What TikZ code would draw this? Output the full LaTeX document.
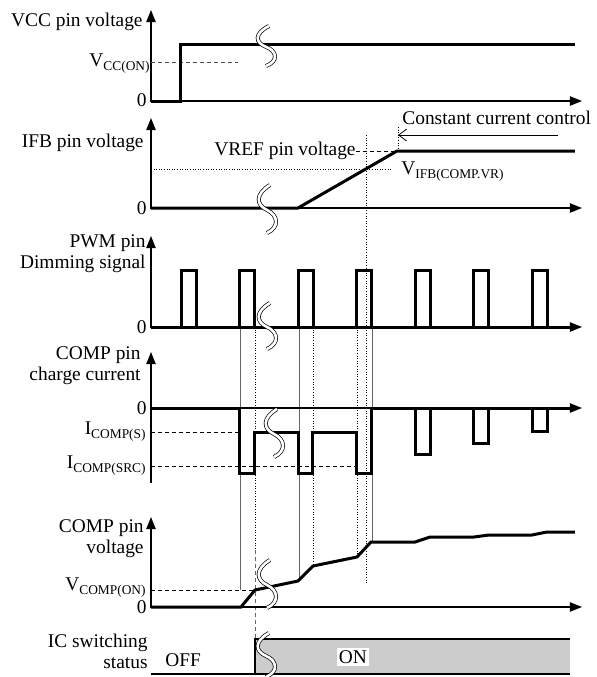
\documentclass[tikz,border=0pt]{standalone}
\usepackage{fontspec}
\setmainfont{Liberation Serif}
\usetikzlibrary{arrows.meta}
\usetikzlibrary{calc}

\newcommand{\lowsub}[1]{\raisebox{-0.45ex}{\fontsize{6.7}{7}\selectfont #1}}

\tikzset{
  lbl/.style={inner sep=0pt, align=right, font=\fontsize{9.7}{10.6}\selectfont},
  axis/.style={line width=0.75pt, {Triangle[length=6pt,width=4.6pt]}-{Triangle[length=6pt,width=4.6pt]}},
  signal/.style={line width=1.5pt, line join=miter},
  guide/.style={line width=0.4pt, dash pattern=on 2pt off 1.5pt},
  tick/.style={line width=0.3pt, densely dotted},
  fine/.style={line width=0.25pt, black!60},
  brk/.style={line width=0.35pt, double=white, double distance=1.3pt},
}

\begin{document}
\begin{tikzpicture}[x=0.5pt, y=-0.5pt]

  \useasboundingbox (0,0) rectangle (597,677);

  \def\xo{151} % vertical axes
  \def\xe{582} % end of time axes
  \def\per{58.5} % PWM period

  % axes
  \coordinate (vcc0) at (\xo,101);  \coordinate (vccy) at (\xo,10);  \coordinate (vccx) at (\xe,101);
  \coordinate (ifb0) at (\xo,208);  \coordinate (ifby) at (\xo,118); \coordinate (ifbx) at (\xe,208);
  \coordinate (pwm0) at (\xo,327);  \coordinate (pwmy) at (\xo,236); \coordinate (pwmx) at (\xe,327);
  \coordinate (cur0) at (\xo,483);  \coordinate (cury) at (\xo,352); \coordinate (curx) at (\xe,408);
  \coordinate (curz) at (\xo,408);
  \coordinate (cmp0) at (\xo,607);  \coordinate (cmpy) at (\xo,517); \coordinate (cmpx) at (\xe,607);

  % thin guide lines between the panels
  \foreach \x/\ya/\yb in {255/327/550, 313/327/566, 357/327/557, 366/135/583}
    \draw[tick] (\x,\ya) -- (\x,\yb);
  \foreach \x/\ya/\yb in {240/327/590, 299/327/581, 372/327/542}
    \draw[fine] (\x,\ya) -- (\x,\yb);
  \draw[guide, black!60] (255,550) -- (255,639);

  \draw[axis] (vccy) -- (vcc0) -- (vccx);
  \draw[axis] (ifby) -- (ifb0) -- (ifbx);
  \draw[axis] (pwmy) -- (pwm0) -- (pwmx);
  \draw[line width=0.75pt, {Triangle[length=6pt,width=4.6pt]}-] (cury) -- (cur0);
  \draw[line width=0.75pt, -{Triangle[length=6pt,width=4.6pt]}] (curz) -- (curx);
  \draw[axis] (cmpy) -- (cmp0) -- (cmpx);

  % VCC pin voltage
  \node[lbl, anchor=east] (vcclbl) at (143,22) {VCC pin voltage};
  \node[lbl, anchor=east] (vccon) at (150,64) {V\lowsub{CC(ON)}};
  \node[lbl, anchor=east] (vcczero) at (147,100) {0};
  \draw[guide, black!70] (\xo,62) -- (238,62);
  \draw[signal] (vcc0) -- (181,101) -- (181,44) -- (575,44);

  % IFB pin voltage
  \node[lbl, anchor=east] (ifblbl) at (144,143) {IFB pin voltage};
  \node[lbl, anchor=east] (ifbzero) at (147,208) {0};
  \node[lbl, anchor=east] (vref) at (356,151) {VREF pin voltage};
  \node[lbl, anchor=west] (vifb) at (401,172) {V\lowsub{IFB(COMP.VR)}};
  \node[lbl, anchor=west] (cclbl) at (402,118) {Constant current control};
  \coordinate (ccstart) at (558,135);
  \coordinate (ccend) at (398,135);
  \draw[tick] (398,127) -- (398,151);
  \draw[line width=0.4pt, -{Straight Barb[length=4pt,width=6pt]}] (ccstart) -- (ccend);
  \draw[tick] (\xo,169) -- (392,169);
  \draw[guide] (vref.east) -- (397,151);
  \draw[signal] (ifb0) -- (298,208) -- (397,151) -- (575,151);

  % PWM pin dimming signal
  \node[lbl, anchor=east] (pwmlbl) at (146,254) {PWM pin\\Dimming signal};
  \node[lbl, anchor=east] (pwmzero) at (147,327) {0};
  \draw[signal] (pwm0) -- (575,327);
  \foreach \k in {0,...,6} {
    \pgfmathsetmacro\xp{181.5+\per*\k}
    \draw[signal] (\xp,327) |- (\xp+15,270) -- (\xp+15,327);
  }

  % COMP pin charge current
  \node[lbl, anchor=east] (curlbl) at (141,366) {COMP pin\\charge current};
  \node[lbl, anchor=east] (curzero) at (147,408) {0};
  \node[lbl, anchor=east] (icomps) at (146,432) {I\lowsub{COMP(S)}};
  \node[lbl, anchor=east] (icompsrc) at (146,466) {I\lowsub{COMP(SRC)}};
  \draw[guide] (\xo,432) -- (240,432);
  \draw[guide] (\xo,466) -- (357,466);
  \draw[signal] (curz) -- (240,408) -- (240,473) -- (255,473) -- (255,432) -- (299,432)
    -- (299,473) -- (313,473) -- (313,432) -- (357,432) -- (357,473) -- (372,473)
    -- (372,408) -- (575,408);
  \foreach \xp/\d in {415.5/454, 474/443, 532.5/431}
    \draw[signal] (\xp,408) |- (\xp+15,\d) -- (\xp+15,408);

  % COMP pin voltage
  \node[lbl, anchor=east] (cmplbl) at (144,539) {COMP pin\\voltage};
  \node[lbl, anchor=east] (vcompon) at (146,588) {V\lowsub{COMP(ON)}};
  \node[lbl, anchor=east] (cmpzero) at (147,607) {0};
  \draw[guide] (\xo,590) -- (255,590);
  \draw[signal] (cmp0) -- (241,607) -- (255,590) -- (298,581) -- (313,566) -- (357,557)
    -- (371,542) -- (415,542) -- (430,537) -- (474,537) -- (489,535) -- (532,535)
    -- (547,532) -- (575,532);

  % IC switching status
  \node[lbl, anchor=east] (iclbl) at (148,651) {IC switching\\status};
  \node[lbl, anchor=west] (off) at (165,660) {OFF};
  \fill[gray!40] (255,639) rectangle (570,674);
  \draw[line width=0.75pt] (570,639) -- (255,639) -- (255,674);
  \draw[line width=0.6pt] (\xo,674) -- (570,674);
  \node[lbl, fill=white, inner sep=1pt] (on) at (353,657) {ON};

  % breaks in the time axis
  \foreach \cx/\cy/\h in {266/46/20, 267/209/24, 267/326/23, 274/433/24, 267/584/24, 266/655/22} {
    \draw[brk, shift={(\cx,\cy)}, yscale=\h/24]
      (3,-24) .. controls (-12,-15) and (-11,-4) .. (0,1) .. controls (11,6) and (13,18) .. (0,24);
  }

\end{tikzpicture}
\end{document}
